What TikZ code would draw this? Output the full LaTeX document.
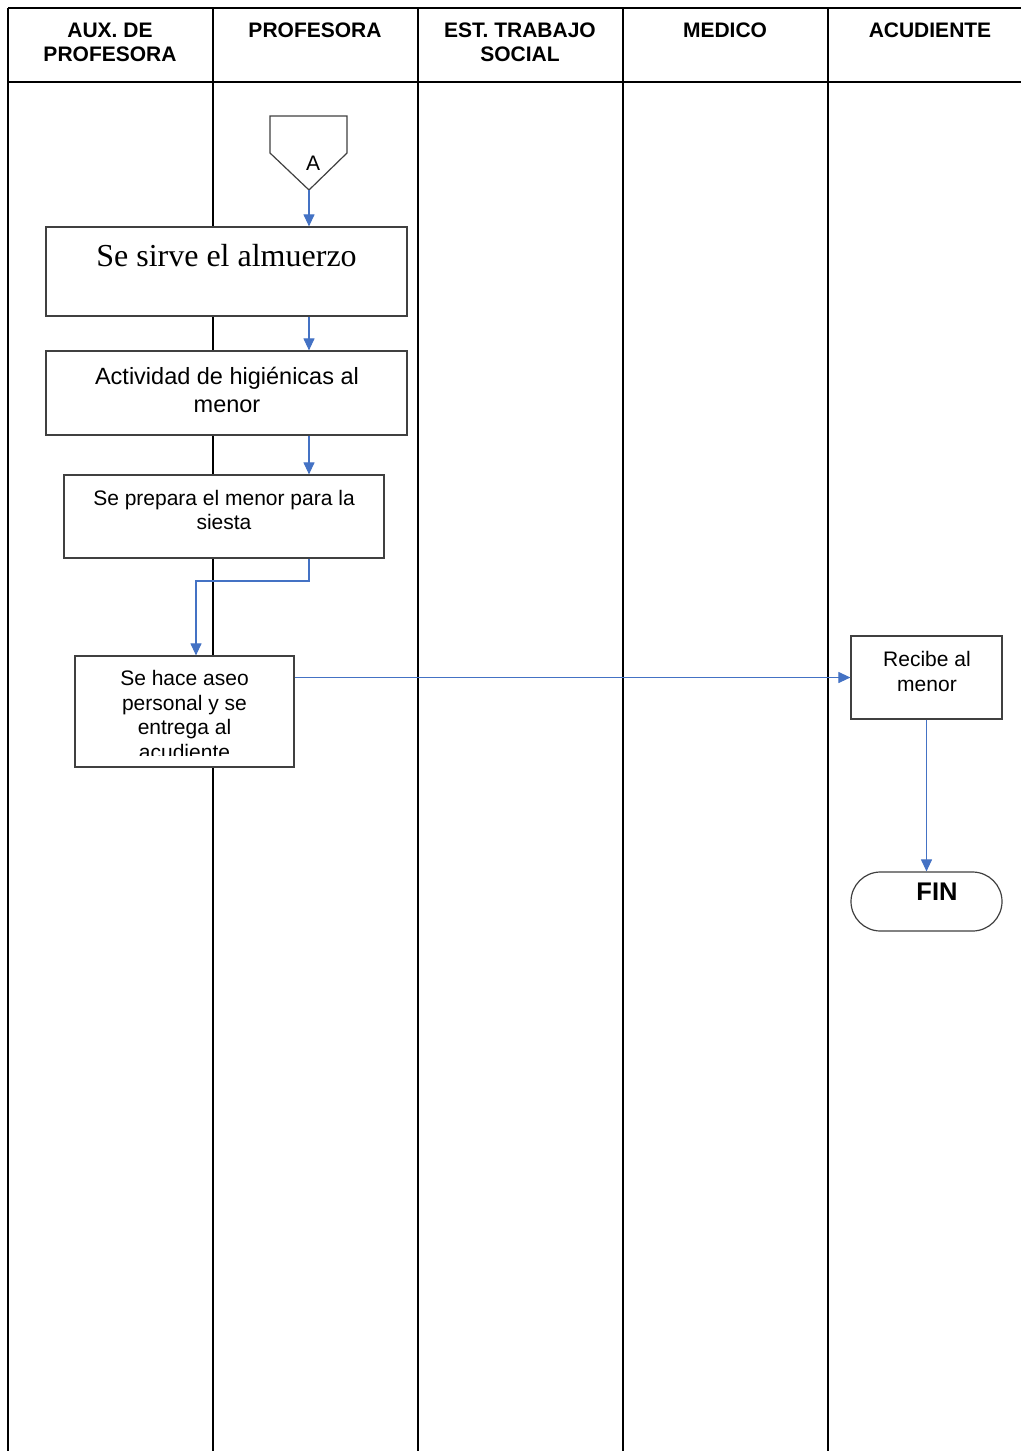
\documentclass[tikz,border=0pt]{standalone}
\usepackage{fontspec}
\setmainfont{Liberation Sans}
\newfontfamily\tnr{Liberation Serif}
\usetikzlibrary{arrows.meta,shapes.misc}
\definecolor{flowblue}{HTML}{4472C4}
\definecolor{boxgray}{HTML}{404040}
\begin{document}
\begin{tikzpicture}[x=1pt,y=-1pt,
  lane/.style={draw=black,line width=1.3pt},
  stepbox/.style={draw=boxgray,fill=white,line width=1.2pt,rectangle,inner sep=0pt},
  endbox/.style={draw=boxgray,fill=white,line width=1.2pt,rounded rectangle,inner sep=0pt},
  flow/.style={draw=flowblue,line width=1.1pt,-{Triangle[length=12pt,width=11pt]}},
  hdr/.style={font=\fontsize{21}{24}\selectfont\bfseries,align=center,inner sep=0pt},
  txt/.style={align=center,inner sep=0pt}]
\useasboundingbox (0,0) rectangle (1021,1451);
% swimlanes
\draw[lane] (8,8) -- (1021,8);
\draw[lane] (8,82) -- (1021,82);
\foreach \xx in {8,213,418,623,828}{\draw[lane] (\xx,8) -- (\xx,1451);}
\node[hdr] (h1) at (110,42) {AUX. DE\\PROFESORA};
\node[hdr] (h2) at (315,30) {PROFESORA};
\node[hdr] (h3) at (520,42) {EST. TRABAJO\\SOCIAL};
\node[hdr] (h4) at (725,30) {MEDICO};
\node[hdr] (h5) at (930,30) {ACUDIENTE};
% off-page connector A
\draw[draw=boxgray,fill=white,line width=1.2pt] (270,116) -- (347,116) -- (347,153) -- (309,190) -- (270,153) -- cycle;
\coordinate (Atip) at (309,190);
\node[txt,font=\fontsize{21}{24}\selectfont] (A) at (313,163) {A};
% boxes
\node[stepbox,minimum width=361pt,minimum height=89pt] (b1) at (226.5,271.5) {};
\node[txt,font=\fontsize{32}{36}\selectfont\tnr] (t1) at (226.5,256) {Se sirve el almuerzo};
\node[stepbox,minimum width=361pt,minimum height=84pt] (b2) at (226.5,393) {};
\node[txt,font=\fontsize{23.5}{28}\selectfont] (t2) at (227,390) {Actividad de higiénicas al\\menor};
\node[stepbox,minimum width=320pt,minimum height=83pt] (b3) at (224,516.5) {};
\node[txt,font=\fontsize{21}{24}\selectfont] (t3) at (224,510) {Se prepara el menor para la\\siesta};
\node[stepbox,minimum width=219pt,minimum height=111pt] (b4) at (184.5,711.5) {};
\begin{scope}
\clip (75,656) rectangle (294,755);
\node[txt,font=\fontsize{21}{24.4}\selectfont] (t4) at (184.5,715) {Se hace aseo\\personal y se\\entrega al\\acudiente};
\end{scope}
\node[stepbox,minimum width=151pt,minimum height=83pt] (b5) at (926.5,677.5) {};
\node[txt,font=\fontsize{21}{25}\selectfont] (t5) at (927,671.5) {Recibe al\\menor};
\node[endbox,minimum width=151pt,minimum height=59pt] (fin) at (926.5,901.5) {};
\node[txt,font=\fontsize{25.5}{28}\selectfont\bfseries] (tfin) at (937,892) {FIN};
% connectors
\draw[flow] (Atip) -- (Atip |- b1.north);
\draw[flow] (b1.south -| Atip) -- (b2.north -| Atip);
\draw[flow] (b2.south -| Atip) -- (b3.north -| Atip);
\coordinate (j1) at (196,581);
\draw[flow] (b3.south -| Atip) |- (j1) -- (j1 |- b4.north);
\draw[flow] (b4.east |- b5.west) -- (b5.west);
\draw[flow] (b5.south) -- (fin.north);
\end{tikzpicture}
\end{document}
